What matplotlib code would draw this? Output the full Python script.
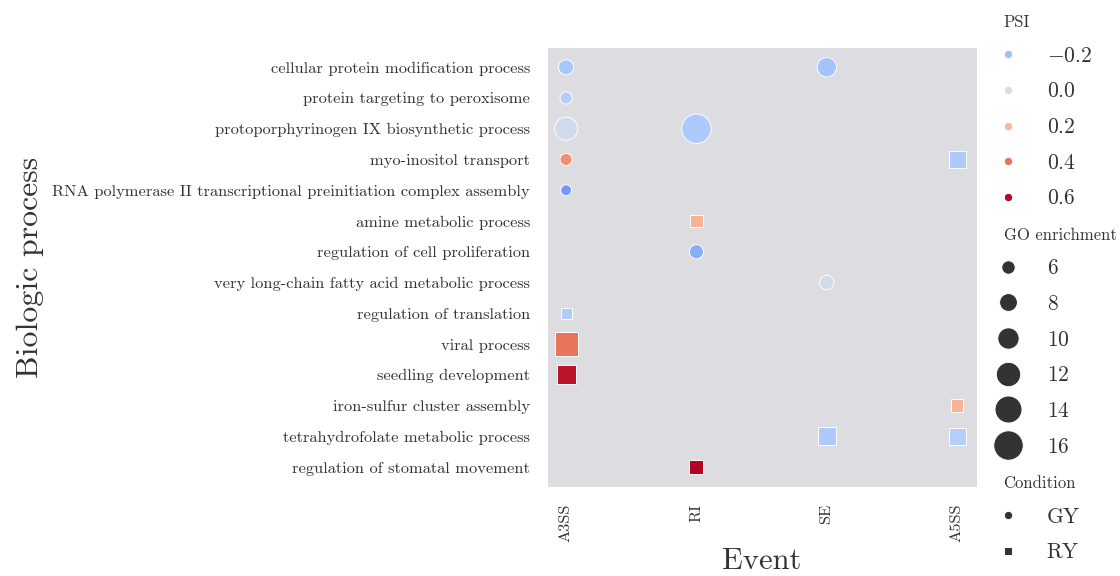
import matplotlib
matplotlib.use("Agg")
import matplotlib.pyplot as plt
import matplotlib.colors as mcolors
import matplotlib.offsetbox as moffsetbox
import pandas as pd
import seaborn as sns

# Row labels (top to bottom) and event columns (left to right)
processes = [
    "cellular protein modification process",
    "protein targeting to peroxisome",
    "protoporphyrinogen IX biosynthetic process",
    "myo-inositol transport",
    "RNA polymerase II transcriptional preinitiation complex assembly",
    "amine metabolic process",
    "regulation of cell proliferation",
    "very long-chain fatty acid metabolic process",
    "regulation of translation",
    "viral process",
    "seedling development",
    "iron-sulfur cluster assembly",
    "tetrahydrofolate metabolic process",
    "regulation of stomatal movement",
]
events = ["A3SS", "RI", "SE", "A5SS"]

# One entry per enriched term
process = [
    processes[0], processes[0], processes[1], processes[2], processes[2],
    processes[3], processes[3], processes[4], processes[5], processes[6],
    processes[7], processes[8], processes[9], processes[10], processes[11],
    processes[12], processes[12], processes[13],
]
event = [
    "A3SS", "SE", "A3SS", "A3SS", "RI",
    "A3SS", "A5SS", "A3SS", "RI", "RI",
    "SE", "A3SS", "A3SS", "A3SS", "A5SS",
    "SE", "A5SS", "RI",
]
psi = [
    -0.17, -0.18, -0.14, -0.05, -0.16,
    0.33, -0.16, -0.32, 0.22, -0.26,
    -0.04, -0.15, 0.40, 0.58, 0.22,
    -0.16, -0.13, 0.60,
]
go_enrichment = [
    6.7, 8.9, 5.5, 11.1, 16.0,
    5.5, 7.5, 5.1, 5.6, 6.3,
    6.4, 5.2, 11.1, 8.6, 5.6,
    8.2, 7.5, 6.2,
]
condition = [
    "GY", "GY", "GY", "GY", "GY",
    "GY", "RY", "GY", "RY", "GY",
    "GY", "RY", "RY", "RY", "RY",
    "RY", "RY", "RY",
]
legend_sections = ["PSI", "GO enrichment", "Condition"]

df = pd.DataFrame({
    "Biologic process": process,
    "Event": event,
    "PSI": psi,
    "GO enrichment": go_enrichment,
    "Condition": condition,
})

sns.set_style("darkgrid", {"axes.facecolor": "#dcdce1", "axes.grid": False,
                           "axes.edgecolor": "white"})
plt.rcParams["font.family"] = "serif"
plt.rcParams["font.serif"] = ["cmr10"]
plt.rcParams["mathtext.fontset"] = "cm"
plt.rcParams["axes.formatter.use_mathtext"] = True

text_color = "#333333"

fig = plt.figure(figsize=(11.2, 5.76), dpi=100)
ax = fig.add_axes([0.488, 0.1545, 0.384, 0.7635])

# Fix the category order on both axes before drawing
ax.xaxis.update_units(events)
ax.yaxis.update_units(processes)

sns.scatterplot(
    data=df, x="Event", y="Biologic process",
    hue="PSI", size="GO enrichment", style="Condition",
    palette="coolwarm",
    hue_norm=mcolors.TwoSlopeNorm(vcenter=0.0, vmin=-0.5, vmax=0.6),
    sizes=(58, 450), size_norm=(5, 16),
    markers={"GY": "o", "RY": "s"},
    legend="brief", ax=ax,
)

if not ax.yaxis_inverted():
    ax.invert_yaxis()

ax.tick_params(axis="both", length=0, pad=12, labelsize=11.8, colors=text_color)
for lbl in ax.get_xticklabels():
    lbl.set_rotation(90)
ax.set_xlabel("Event", fontsize=22, color=text_color)
ax.set_ylabel("Biologic process", fontsize=23, color=text_color, labelpad=6)

handles, labels = ax.get_legend_handles_labels()
leg = ax.legend(handles, labels, loc="upper left",
                bbox_to_anchor=(0.873, 0.994), bbox_transform=fig.transFigure,
                borderaxespad=0, frameon=False, fontsize=15.5,
                labelspacing=0.75)

# Section headings: smaller text, pulled to the left edge
vpack = leg.findobj(moffsetbox.VPacker)[0]
for hpack in vpack.get_children():
    children = hpack.get_children()
    if len(children) != 2:
        continue
    draw_area, text_area = children
    texts = text_area.get_children()
    if texts and texts[0].get_text() in legend_sections:
        draw_area.set_width(0)
        for t in texts:
            t.set_size(12)
for t in leg.get_texts():
    t.set_color(text_color)

fig.savefig("out.png", dpi=100)
